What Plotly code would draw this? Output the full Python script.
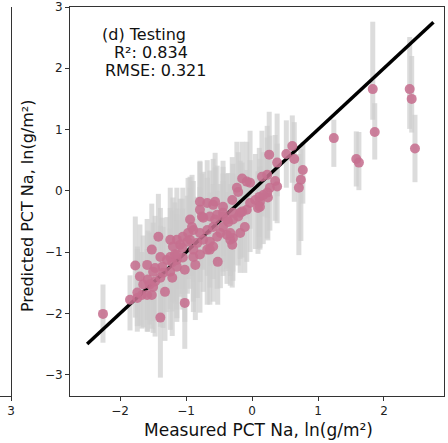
import plotly.graph_objects as go

# Measured (x), predicted (y), upper / lower prediction interval extents
meas = [1.83, 1.86, 2.39, 2.42, 2.47, 1.24, 1.58, 1.62,
        0.61, 0.52, 0.64, 0.77, 0.74, 0.71, 0.26, 0.38, 0.35, 0.38, 0.27, 0.23, 0.24, 0.11, 0.05, 0.09,
        -0.03, -0.08, -0.15, -0.15, -0.08, -0.23, -0.21, -0.30, -0.44, -0.56, -0.68, -0.79, -0.59, -0.79,
        -0.76, -0.64, -0.56, -0.44, -0.36, -0.29, -0.21, -0.11, -0.29, -0.18, -0.94, -0.89, -0.79, -0.68,
        -0.59, -0.48, -0.44, -1.05, -0.94, -0.83, -0.74, -0.64, -0.53, -0.38, -1.14, -1.09, -1.20, -0.33,
        -0.30, -0.97, -0.98, -1.42, -1.24, -1.06, -1.52, -1.39, -1.29, -1.21, -1.14, -1.05, -0.89, -0.79,
        -0.64, -0.52, -1.77, -1.59, -1.47, -1.36, -1.35, -1.24, -1.02, -0.86, -1.70, -1.58, -1.47, -1.39,
        -1.21, -1.65, -1.50, -1.67, -1.59, -1.52, -1.85, -1.74, -1.32, -1.02, -2.26, -1.39, -1.24, -1.14,
        -1.55, -0.53, -0.74, -0.91, -0.89, -0.68, -0.59, -1.17, -1.14, -1.50, -1.74, 0.12, -0.33, -0.38,
        -0.18, -0.29, -0.44, 0.15, 0.23, -0.03, 0.17, 0.12]
pred = [1.66, 0.96, 1.66, 1.50, 0.69, 0.86, 0.52, 0.46,
        0.73, 0.60, 0.52, 0.34, 0.18, 0.05, 0.59, 0.46, 0.16, 0.07, 0.05, -0.03, -0.11, -0.10, -0.15, -0.28,
        -0.20, -0.31, -0.34, 0.20, 0.15, 0.05, -0.02, -0.15, -0.26, -0.18, -0.20, -0.18, -0.23, -0.31,
        -0.42, -0.42, -0.47, -0.42, -0.51, -0.47, -0.42, -0.59, -0.77, -0.69, -0.47, -0.64, -0.69, -0.64,
        -0.59, -0.69, -0.59, -0.75, -0.80, -0.85, -0.80, -0.83, -0.75, -0.72, -0.80, -0.88, -0.91, -0.80,
        -0.88, -0.69, -0.83, -0.75, -0.80, -0.93, -0.96, -1.08, -1.13, -1.17, -1.13, -1.09, -1.08, -1.04,
        -0.96, -1.16, -1.22, -1.21, -1.26, -1.24, -1.34, -1.32, -1.29, -1.21, -1.40, -1.45, -1.48, -1.42,
        -1.42, -1.53, -1.57, -1.70, -1.70, -1.70, -1.78, -1.75, -1.65, -1.83, -2.01, -2.07, -1.08, -1.04,
        -1.53, -0.39, -0.44, -0.59, -0.96, -0.96, -0.91, -1.04, -1.24, -1.32, -1.66, -0.18, -0.69, -0.47,
        -0.36, -0.36, -0.36, 0.23, 0.26, 0.13, -0.07, -0.26]
err_hi = [1.10, 0.47, 0.85, 0.70, 0.55, 0.30, 0.45, 0.50,
          0.50, 0.55, 0.60, 0.45, 0.50, 0.55, 0.70, 0.80, 0.75, 0.70, 0.85, 0.90, 0.65, 0.80, 0.75, 0.60,
          0.70, 0.65, 0.80, 0.60, 0.65, 0.75, 0.65, 0.70, 0.75, 0.80, 0.70, 0.65, 0.75, 0.80,
          0.70, 0.75, 0.85, 0.70, 0.80, 0.75, 0.65, 0.70, 0.80, 0.75, 0.70, 0.80, 0.75, 0.85,
          0.70, 0.80, 0.75, 0.80, 0.85, 0.75, 0.70, 0.80, 0.75, 0.70, 0.85, 0.75, 0.80, 0.65,
          0.70, 0.90, 0.75, 0.70, 0.85, 0.80, 0.75, 0.80, 0.70, 0.85, 0.75, 0.80, 0.70, 0.75,
          0.80, 0.70, 0.80, 0.75, 0.85, 0.80, 0.75, 0.70, 0.80, 0.75, 0.85, 0.80, 0.75, 0.85,
          0.70, 0.80, 0.75, 0.70, 0.75, 0.80, 0.40, 0.80, 0.85, 0.90, 0.48, 0.95, 0.80, 0.75,
          0.85, 0.80, 0.75, 0.85, 0.80, 0.75, 0.70, 0.85, 0.75, 0.80, 0.75, 0.70, 0.80, 0.75,
          0.85, 0.80, 0.75, 0.75, 0.80, 0.85, 0.70, 0.65]
err_lo = [0.50, 0.45, 0.65, 0.55, 0.55, 0.47, 0.45, 0.45,
          0.60, 0.55, 0.70, 0.55, 1.00, 1.10, 0.60, 0.55, 0.65, 0.60, 0.70, 0.75, 0.70, 0.65, 0.80, 0.75,
          0.80, 0.85, 0.75, 0.70, 0.60, 0.80, 0.75, 0.85, 0.80, 0.75, 0.85, 0.80, 0.70, 0.75,
          0.85, 0.80, 0.75, 0.90, 0.80, 0.85, 0.80, 0.75, 0.70, 0.65, 0.80, 0.85, 0.80, 0.75,
          0.85, 0.90, 0.80, 0.85, 0.80, 0.90, 0.85, 0.75, 0.85, 0.80, 0.80, 0.85, 0.90, 0.75,
          0.70, 0.75, 0.85, 0.90, 0.80, 0.75, 0.85, 0.90, 0.85, 0.80, 0.95, 0.85, 0.90, 0.95,
          0.90, 0.70, 0.85, 0.90, 0.80, 0.85, 0.90, 0.95, 0.85, 0.90, 0.80, 0.85, 0.90, 0.80,
          0.95, 0.70, 0.75, 0.55, 0.60, 0.55, 0.50, 0.55, 0.80, 0.75, 0.47, 0.98, 0.85, 0.90,
          0.65, 0.75, 0.85, 0.80, 0.85, 0.90, 0.90, 0.80, 0.90, 0.80, 0.55, 0.75, 0.70, 0.80,
          0.75, 0.85, 0.80, 0.65, 0.70, 0.75, 0.80, 0.70]

one_to_one = [-2.5, 2.75]
x_ticks = [-2, -1, 0, 1, 2]
y_ticks = [-3, -2, -1, 0, 1, 2, 3]
stats_lines = ["(d) Testing", "R²: 0.834", "RMSE: 0.321"]

FONT = "DejaVu Sans"
AX = "#333333"
TXT = "#111111"
PW = 444.0  # paper width in px (l=0, r=4)
PH = 389.0  # paper height in px (t=7, b=47)


def px(v):
    return v / PW


def py(v):
    return (396 - v) / PH


fig = go.Figure()
# prediction-interval bars (drawn first, underneath)
fig.add_trace(go.Scatter(
    x=meas, y=pred, mode="markers",
    marker=dict(size=10, color="rgba(0,0,0,0)"),
    error_y=dict(type="data", symmetric=False, array=err_hi, arrayminus=err_lo,
                 color="rgba(205,205,205,0.7)", thickness=5, width=0),
    showlegend=False, hoverinfo="skip"))
# 1:1 line
fig.add_trace(go.Scatter(
    x=one_to_one, y=one_to_one, mode="lines",
    line=dict(color="black", width=3.5), showlegend=False, hoverinfo="skip"))
# points on top
fig.add_trace(go.Scatter(
    x=meas, y=pred, mode="markers",
    marker=dict(size=10, color="rgba(198,112,144,0.88)", line=dict(width=0)),
    showlegend=False, hoverinfo="skip"))

# partial neighbouring panel (c) at the left edge
fig.add_trace(go.Scatter(x=[3], y=[0], xaxis="x2", yaxis="y2", mode="markers",
                         marker=dict(opacity=0), showlegend=False, hoverinfo="skip"))

ann = []
for txt, lx, ly in zip(stats_lines, [100, 112, 103], [34, 52.5, 71]):
    ann.append(dict(text=txt, xref="paper", yref="paper", x=px(lx), y=py(ly),
                    xanchor="left", yanchor="middle", showarrow=False,
                    font=dict(family=FONT, size=16, color=TXT)))
ann.append(dict(text="Measured PCT Na, ln(g/m²)", xref="paper", yref="paper",
                x=px(258), y=py(430), xanchor="center", yanchor="middle",
                showarrow=False, font=dict(family=FONT, size=17, color=TXT)))
ann.append(dict(text="Predicted PCT Na, ln(g/m²)", xref="paper", yref="paper",
                x=px(27), y=py(206), xanchor="center", yanchor="middle",
                textangle=-90, showarrow=False, font=dict(family=FONT, size=16, color=TXT)))

fig.update_layout(
    width=448, height=443,
    margin=dict(l=0, r=4, t=7, b=47),
    paper_bgcolor="white", plot_bgcolor="white",
    font=dict(family=FONT, size=12, color="#222222"),
    xaxis=dict(domain=[px(70), 1], range=[-2.76, 2.91], tickvals=x_ticks,
               showline=True, mirror=True, linecolor=AX, linewidth=1,
               ticks="outside", ticklen=4, tickcolor=AX, showgrid=False, zeroline=False),
    yaxis=dict(range=[-3.35, 3.0], tickvals=y_ticks,
               showline=True, mirror=True, linecolor=AX, linewidth=1,
               ticks="outside", ticklen=4, tickcolor=AX, showgrid=False, zeroline=False),
    xaxis2=dict(domain=[0, px(11)], anchor="y2", range=[2.9, 3.0], tickvals=[3],
                showline=True, linecolor=AX, ticks="outside", ticklen=4, tickcolor=AX,
                showgrid=False, zeroline=False),
    yaxis2=dict(domain=[0, 1], anchor="x2", range=[-3.35, 3.0], side="right",
                showline=True, linecolor=AX, showticklabels=False, ticks="",
                showgrid=False, zeroline=False),
    annotations=ann,
)

fig.write_html("out.html")
